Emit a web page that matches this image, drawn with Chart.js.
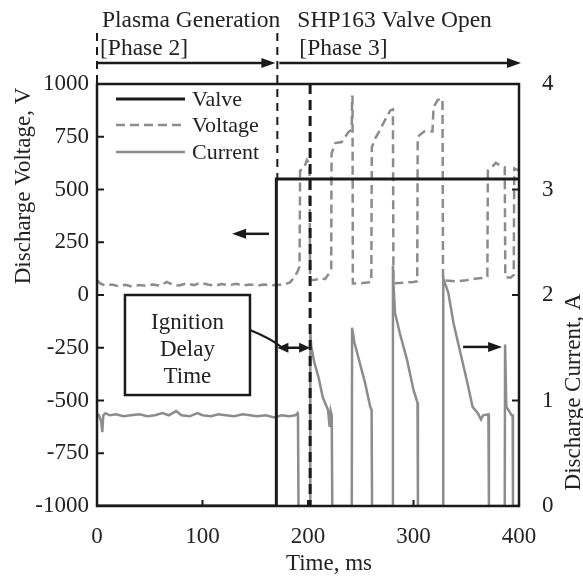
<!DOCTYPE html>
<html><head><meta charset="utf-8">
<script src="https://cdn.jsdelivr.net/npm/chart.js@4.4.0/dist/chart.umd.min.js"></script>
<style>html,body{margin:0;padding:0;background:#fff;}</style>
</head><body>
<canvas id="c" width="583" height="577"></canvas>
<script>
// ---------- data ----------
const xTicks = [0, 100, 200, 300, 400];
const voltageTicks = [-1000, -750, -500, -250, 0, 250, 500, 750, 1000];
const currentTicks = [0, 1, 2, 3, 4];

const valveTime  = [0, 170, 170, 400];
const valveLevel = [0, 0, 3.1, 3.1];   // drawn on current axis

const voltageTime = [0, 3, 8, 14, 20, 27, 33, 40, 47, 53, 60, 66, 72, 78, 85, 92, 98, 105, 112, 118, 125, 132, 138, 145, 152, 158, 165, 172, 178, 183, 187, 190, 192,
  192.5, 196, 199, 201.5, 202, 207, 212, 216, 219, 221, 222,
  222.3, 226, 232, 238, 241.5, 241.8, 242.2, 242.5, 250, 258, 260,
  260.5, 264, 268, 272, 278, 280.5, 281, 290, 300, 303.5,
  304, 310, 318, 319, 323, 327.5, 328, 340, 350, 360, 365, 370,
  370.5, 375, 378, 383, 386.5, 387, 392, 395, 395.5, 400];
const voltageValue = [70, 55, 45, 50, 42, 48, 40, 47, 43, 50, 44, 62, 48, 45, 55, 47, 58, 50, 44, 52, 46, 53, 45, 50, 44, 50, 46, 48, 50, 60, 85, 110, 135,
  590, 600, 640, 620, 70, 72, 80, 75, 95, 120, 125,
  670, 720, 725, 770, 785, 940, 940, 55, 55, 60, 62,
  700, 745, 780, 820, 875, 880, 55, 58, 62, 65,
  750, 775, 775, 890, 925, 930, 70, 65, 70, 78, 80, 88,
  590, 610, 626, 612, 605, 85, 82, 95, 600, 590];

const currentTime = [0, 2, 4, 5, 6, 8, 12, 18, 25, 32, 40, 48, 55, 62, 68, 75, 80, 88, 95, 100, 108, 115, 122, 130, 138, 145, 152, 160, 168, 175, 182, 188, 190, 190.5, 191,
  202, 202.2, 203, 206, 210, 214, 219, 220.5, 221.5, 222.5, 223,
  241.5, 241.8, 244, 249, 254, 259, 260.3, 260.7,
  280.3, 280.5, 281, 282.5, 287, 294, 300, 303.8, 304.2,
  328, 328.2, 333, 338, 344.5, 351, 356, 361, 364, 366, 371, 371.5,
  386.5, 386.8, 388, 390, 393, 394, 394.3, 400];
const currentValue = [0.87, 0.86, 0.80, 0.70, 0.86, 0.88, 0.86, 0.87, 0.85, 0.86, 0.87, 0.85, 0.86, 0.88, 0.86, 0.90, 0.86, 0.85, 0.88, 0.86, 0.85, 0.87, 0.86, 0.85, 0.87, 0.86, 0.85, 0.86, 0.84, 0.86, 0.85, 0.86, 0.88, 0.85, 0,
  0, 1.64, 1.52, 1.36, 1.22, 1.03, 0.91, 0.75, 0.90, 0.86, 0,
  0, 1.69, 1.55, 1.36, 1.17, 0.94, 0.91, 0,
  0, 2.28, 2.11, 1.83, 1.64, 1.38, 1.10, 0.98, 0,
  0, 2.16, 2.02, 1.73, 1.45, 1.17, 0.94, 0.88, 0.82, 0.86, 0.87, 0,
  0, 1.53, 0.94, 0.91, 0.86, 0.86, 0, 0];

const seriesLabels = ['Valve', 'Voltage', 'Current'];

// ---------- styling ----------
const INK = '#1a1a1a';
const GRAY = '#8c8c8c';
const FONT = '"Liberation Serif", "Times New Roman", serif';
const toXY = (xs, ys) => xs.map((t, i) => ({x: t, y: ys[i]}));

function head(ctx, x, y, dir, len, half) {
  ctx.beginPath();
  ctx.moveTo(x, y);
  ctx.lineTo(x - dir * len, y - half);
  ctx.lineTo(x - dir * len, y + half);
  ctx.closePath();
  ctx.fill();
}

const overlay = {
  id: 'overlay',
  afterDatasetsDraw(chart) {
    const {ctx, chartArea: a, scales} = chart;
    const sx = scales.x, sy = scales.y, sy1 = scales.y1;
    ctx.save();
    ctx.strokeStyle = INK; ctx.fillStyle = INK; ctx.lineCap = 'butt';

    // frame
    ctx.setLineDash([]); ctx.lineWidth = 2.5;
    ctx.strokeRect(a.left, a.top, a.right - a.left, a.bottom - a.top);

    // inward ticks
    ctx.lineWidth = 2;
    voltageTicks.forEach(v => { const py = sy.getPixelForValue(v); ctx.beginPath(); ctx.moveTo(a.left, py); ctx.lineTo(a.left + 7, py); ctx.stroke(); });
    currentTicks.forEach(v => { const py = sy1.getPixelForValue(v); ctx.beginPath(); ctx.moveTo(a.right, py); ctx.lineTo(a.right - 7, py); ctx.stroke(); });
    xTicks.forEach(v => { const px = sx.getPixelForValue(v); ctx.beginPath(); ctx.moveTo(px, a.bottom); ctx.lineTo(px, a.bottom - 6); ctx.stroke(); });

    // phase boundary dashed lines
    const x0 = sx.getPixelForValue(0), xv = sx.getPixelForValue(170), xi = sx.getPixelForValue(202);
    const yValve = sy1.getPixelForValue(3.1);
    ctx.lineWidth = 2; ctx.setLineDash([8, 6]);
    ctx.beginPath(); ctx.moveTo(x0, 33); ctx.lineTo(x0, a.top); ctx.stroke();
    ctx.beginPath(); ctx.moveTo(xv + 1, 33); ctx.lineTo(xv + 1, yValve); ctx.stroke();
    ctx.lineWidth = 3; ctx.setLineDash([10, 6]);
    ctx.beginPath(); ctx.moveTo(xi, a.top); ctx.lineTo(xi, a.bottom); ctx.stroke();
    ctx.setLineDash([]);

    // phase arrows
    ctx.lineWidth = 2.5;
    const ya = 63;
    ctx.beginPath(); ctx.moveTo(x0, ya); ctx.lineTo(xv - 10, ya); ctx.stroke();
    head(ctx, xv - 1, ya, 1, 14, 5);
    ctx.beginPath(); ctx.moveTo(xv + 3, ya); ctx.lineTo(a.right - 8, ya); ctx.stroke();
    head(ctx, a.right + 2, ya, 1, 14, 5);

    // top texts
    ctx.fillStyle = '#222';
    ctx.font = '23.5px ' + FONT; ctx.textBaseline = 'middle'; ctx.textAlign = 'left';
    ctx.fillText('Plasma Generation', x0 + 5, 21);
    ctx.fillText('[Phase 2]', x0 + 3, 49);
    ctx.fillText('SHP163 Valve Open', xv + 21, 21);
    ctx.fillText('[Phase 3]', xv + 23, 49);

    // legend
    ctx.font = '22px ' + FONT;
    const ds = chart.data.datasets;
    const legY = [99, 125, 152];
    ds.forEach((d, i) => {
      ctx.strokeStyle = d.borderColor; ctx.lineWidth = d.borderWidth;
      ctx.setLineDash(d.borderDash || []);
      ctx.beginPath(); ctx.moveTo(a.left + 19, legY[i]); ctx.lineTo(a.left + 88, legY[i]); ctx.stroke();
      ctx.setLineDash([]);
      ctx.fillStyle = '#222';
      ctx.fillText(d.label, a.left + 95, legY[i] + 1);
    });

    ctx.strokeStyle = INK; ctx.fillStyle = INK; ctx.lineWidth = 2.5;
    // left-pointing arrow (voltage -> left axis)
    let py = sy.getPixelForValue(290);
    ctx.beginPath(); ctx.moveTo(sx.getPixelForValue(163), py); ctx.lineTo(sx.getPixelForValue(128) + 10, py); ctx.stroke();
    head(ctx, sx.getPixelForValue(128), py, -1, 14, 5);
    // right-pointing arrow (current -> right axis)
    py = sy.getPixelForValue(-246);
    ctx.beginPath(); ctx.moveTo(sx.getPixelForValue(347), py); ctx.lineTo(sx.getPixelForValue(384) - 10, py); ctx.stroke();
    head(ctx, sx.getPixelForValue(384), py, 1, 14, 5);

    // ignition delay box
    const bx1 = sx.getPixelForValue(26.5), bx2 = sx.getPixelForValue(145);
    const by1 = sy.getPixelForValue(0), by2 = sy.getPixelForValue(-474);
    ctx.fillStyle = '#fff'; ctx.fillRect(bx1, by1, bx2 - bx1, by2 - by1);
    ctx.lineWidth = 2.5; ctx.strokeRect(bx1, by1, bx2 - bx1, by2 - by1);
    ctx.fillStyle = '#222'; ctx.textAlign = 'center'; ctx.font = '23px ' + FONT;
    const cx = (bx1 + bx2) / 2;
    ctx.fillText('Ignition', cx, by1 + 28);
    ctx.fillText('Delay', cx, by1 + 55);
    ctx.fillText('Time', cx, by1 + 82);
    // leader line & double arrow
    const ay = sy.getPixelForValue(-250);
    ctx.lineWidth = 2;
    ctx.beginPath(); ctx.moveTo(bx2, by1 + 35); ctx.quadraticCurveTo(bx2 + 22, by1 + 44, xv + 6, ay); ctx.stroke();
    ctx.fillStyle = INK; ctx.lineWidth = 2.5;
    ctx.beginPath(); ctx.moveTo(xv + 10, ay); ctx.lineTo(xi - 10, ay); ctx.stroke();
    head(ctx, xv + 1, ay, -1, 11, 5);
    head(ctx, xi, ay, 1, 11, 5);

    // axis titles
    ctx.fillStyle = '#222'; ctx.font = '23px ' + FONT; ctx.textBaseline = 'middle';
    ctx.save(); ctx.translate(24, 186); ctx.rotate(-Math.PI / 2); ctx.textAlign = 'center';
    ctx.fillText('Discharge Voltage, V', 0, 0); ctx.restore();
    ctx.save(); ctx.translate(574, 392); ctx.rotate(-Math.PI / 2); ctx.textAlign = 'center';
    ctx.fillText('Discharge Current, A', 0, 0); ctx.restore();
    ctx.textAlign = 'center';
    ctx.fillText('Time, ms', 329, 564);

    ctx.restore();
  }
};

const tickFont = {family: FONT, size: 23};
const plain = v => String(v);
new Chart(document.getElementById('c'), {
  type: 'line',
  data: {
    datasets: [
      {label: seriesLabels[0], data: toXY(valveTime, valveLevel), yAxisID: 'y1', borderColor: INK, borderWidth: 3, pointRadius: 0, tension: 0},
      {label: seriesLabels[1], data: toXY(voltageTime, voltageValue), yAxisID: 'y', borderColor: GRAY, borderWidth: 2.5, borderDash: [9, 5], pointRadius: 0, tension: 0},
      {label: seriesLabels[2], data: toXY(currentTime, currentValue), yAxisID: 'y1', borderColor: GRAY, borderWidth: 2.5, pointRadius: 0, tension: 0}
    ]
  },
  options: {
    responsive: false, animation: false, devicePixelRatio: 1,
    layout: {padding: {top: 84, left: 0, right: 0, bottom: 0}},
    plugins: {legend: {display: false}, tooltip: {enabled: false}},
    scales: {
      x: {type: 'linear', min: 0, max: 400, afterBuildTicks: s => { s.ticks = xTicks.map(v => ({value: v})); },
        afterFit: s => { s.height = 71; },
        ticks: {font: tickFont, color: '#222', padding: 17, maxRotation: 0, callback: plain},
        grid: {display: false, drawTicks: false}, border: {display: false}},
      y: {position: 'left', min: -1000, max: 1000, afterBuildTicks: s => { s.ticks = voltageTicks.map(v => ({value: v})); },
        afterFit: s => { s.width = 97; },
        ticks: {font: tickFont, color: '#222', padding: 8, callback: plain},
        grid: {display: false, drawTicks: false}, border: {display: false}},
      y1: {position: 'right', min: 0, max: 4, afterBuildTicks: s => { s.ticks = currentTicks.map(v => ({value: v})); },
        afterFit: s => { s.width = 64; },
        ticks: {font: tickFont, color: '#222', padding: 23, callback: plain},
        grid: {display: false, drawTicks: false}, border: {display: false}}
    }
  },
  plugins: [overlay]
});
</script>
</body></html>
